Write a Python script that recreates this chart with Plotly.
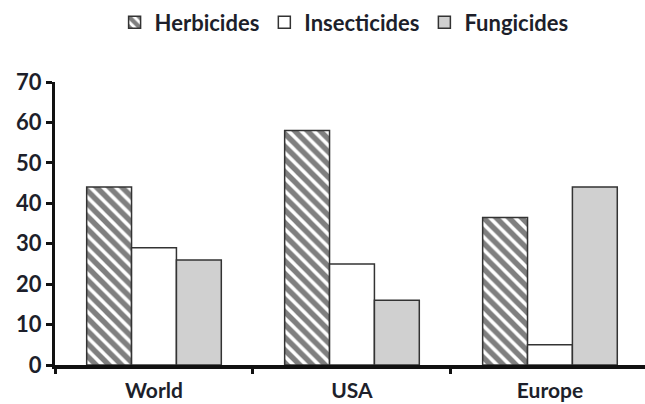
import plotly.graph_objects as go

regions = ["World", "USA", "Europe"]
herbicides = [44, 58, 36.5]
insecticides = [29, 25, 5]
fungicides = [26, 16, 44]
y_ticks = [0, 10, 20, 30, 40, 50, 60, 70]

text_color = "#1d1f2b"
font_family = "Lato, Open Sans, sans-serif"
label_font = dict(family=font_family, size=22, color=text_color, weight="bold")
cat_font = dict(family=font_family, size=21, color=text_color, weight="bold")
outline = dict(color="#333333", width=1.5)

fig = go.Figure()
fig.add_trace(go.Bar(
    name="Herbicides", x=regions, y=herbicides,
    marker=dict(color="white", line=outline,
                pattern=dict(shape="\\", fgcolor="#000000", bgcolor="white",
                             size=9, solidity=0.6, fillmode="overlay")),
))
fig.add_trace(go.Bar(
    name="Insecticides", x=regions, y=insecticides,
    marker=dict(color="white", line=outline),
))
fig.add_trace(go.Bar(
    name="Fungicides", x=regions, y=fungicides,
    marker=dict(color="#d0d0d0", line=outline),
))

fig.update_layout(
    width=645, height=404,
    margin=dict(l=55, r=0, t=82, b=39, autoexpand=False),
    paper_bgcolor="white", plot_bgcolor="white",
    barmode="group", bargap=0.32, bargroupgap=0,
    font=label_font,
    showlegend=True,
    legend=dict(orientation="h", x=0.49, xanchor="center", y=1.21, yanchor="middle",
                font=label_font, itemwidth=30, tracegroupgap=0),
    xaxis=dict(
        type="category", range=[-0.5, 2.48], showline=True, linecolor="#111111", linewidth=4,
        ticks="outside", tickson="boundaries", ticklen=5, tickwidth=3, tickcolor="#111111",
        tickfont=cat_font, ticklabelstandoff=4,
        showgrid=False, zeroline=False,
    ),
    yaxis=dict(
        range=[0, 70], tickvals=y_ticks, showline=True, linecolor="#111111", linewidth=3,
        ticks="outside", ticklen=6, tickwidth=3, tickcolor="#111111",
        tickfont=label_font,
        showgrid=False, zeroline=False,
    ),
)

fig.write_html("out.html")
